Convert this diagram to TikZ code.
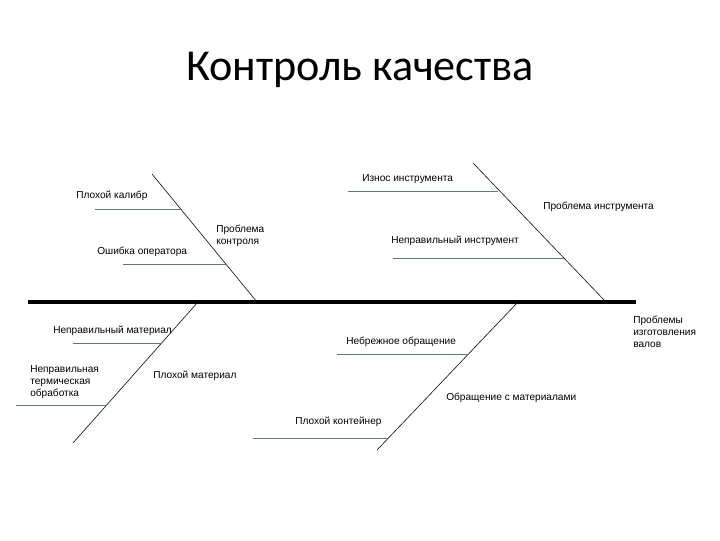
\documentclass[tikz,border=0pt]{standalone}
\usepackage{fontspec}
\setmainfont{Liberation Sans}
\newfontfamily\titlefont{Carlito}
\usetikzlibrary{positioning}
\definecolor{FishBone}{RGB}{92,118,142}
\definecolor{FishInk}{RGB}{20,20,20}

\begin{document}
\begin{tikzpicture}[x=0.025cm,y=-0.025cm]
        \tikzset{lbl/.style={inner sep=0pt,anchor=west,align=left,font=\fontsize{7.2}{8.5}\selectfont},sub/.style={draw=FishBone,line width=0.5pt},bone/.style={draw=FishInk,line width=0.45pt}}
        \useasboundingbox (0,0) rectangle (720,540);
        \node[anchor=base,inner sep=0pt,font=\titlefont\fontsize{31.4}{34}\selectfont] (title) at (360,80) {Контроль качества};
        % spine
        \coordinate (spineL) at (28,302);
        \coordinate (spineR) at (636,302);
        \draw[line width=2.8pt] (spineL) -- (spineR);
        % main bones
        \coordinate (ctrlTop) at (152,174); \coordinate (ctrlBot) at (257,302);
        \coordinate (toolTop) at (473,163); \coordinate (toolBot) at (606,302);
        \coordinate (matBot) at (73,443); \coordinate (matTop) at (198,302);
        \coordinate (handBot) at (377,450); \coordinate (handTop) at (518,302);
        \draw[bone] (ctrlTop) -- (ctrlBot);
        \draw[bone] (toolTop) -- (toolBot);
        \draw[bone] (matBot) -- (matTop);
        \draw[bone] (handBot) -- (handTop);
        % small bones
        \coordinate (kalibrL) at (95,209); \coordinate (kalibrR) at (181,209);
        \coordinate (operL) at (123,264); \coordinate (operR) at (226,264);
        \coordinate (iznosL) at (348,191); \coordinate (iznosR) at (498,191);
        \coordinate (instrL) at (393,258); \coordinate (instrR) at (564,258);
        \coordinate (nmatL) at (73,343); \coordinate (nmatR) at (162,343);
        \coordinate (termL) at (16,405); \coordinate (termR) at (107,405);
        \coordinate (nebrL) at (337,354); \coordinate (nebrR) at (468,354);
        \coordinate (contL) at (253,438); \coordinate (contR) at (388,438);
        \foreach \a in {kalibr,oper,iznos,instr,nmat,term,nebr,cont}{\draw[sub] (\a L) -- (\a R);}
        % labels
        \node[lbl] (kalibr) at (76,196) {Плохой калибр};
        \node[lbl] (oper) at (97,252) {Ошибка оператора};
        \node[lbl] (ctrl) at (216,236) {Проблема\\контроля};
        \node[lbl] (iznos) at (362,179) {Износ инструмента};
        \node[lbl] (tool) at (543,207) {Проблема инструмента};
        \node[lbl] (instr) at (391,241) {Неправильный инструмент};
        \node[lbl] (nmat) at (53,331) {Неправильный материал};
        \node[lbl] (term) at (30,382) {Неправильная\\термическая\\обработка};
        \node[lbl] (mat) at (153,376) {Плохой материал};
        \node[lbl] (nebr) at (346,342) {Небрежное обращение};
        \node[lbl] (hand) at (446,398) {Обращение с материалами};
        \node[lbl] (cont) at (295,422) {Плохой контейнер};
        \node[lbl] (effect) at (633,332) {Проблемы\\изготовления\\валов};
      \end{tikzpicture}
\end{document}
